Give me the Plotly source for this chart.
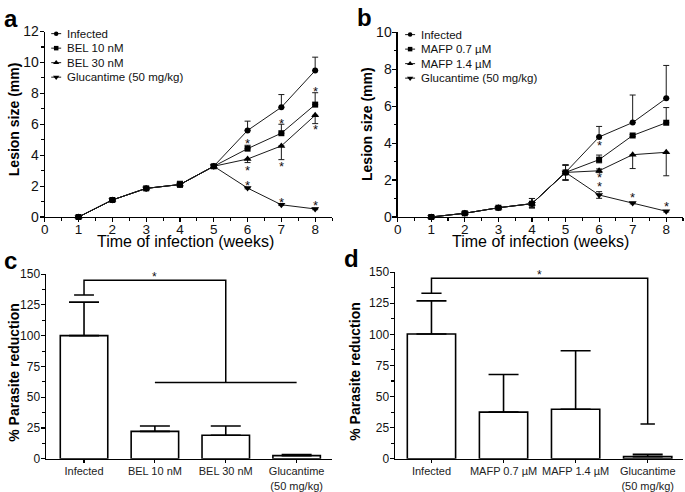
import plotly.graph_objects as go

W, H = 685, 492
FONT = "Arial, Liberation Sans, Helvetica, sans-serif"

# ---------------- data ----------------
weeks = [1, 2, 3, 4, 5, 6, 7, 8]

# Panel a
a_names = ["Infected", "BEL 10 nM", "BEL 30 nM", "Glucantime (50 mg/kg)"]
a_infected = [0.0, 1.1, 1.85, 2.1, 3.28, 5.6, 7.1, 9.47]
a_infected_up = [0, 0.05, 0.05, 0.2, 0.1, 0.6, 0.82, 0.87]
a_infected_dn = [0, 0.05, 0.05, 0.15, 0.1, 0, 0, 0]
a_bel10 = [0.0, 1.1, 1.85, 2.1, 3.28, 4.42, 5.42, 7.27]
a_bel10_up = [0, 0.05, 0.05, 0.2, 0.1, 0.22, 0.58, 0.77]
a_bel10_dn = [0, 0.05, 0.05, 0.15, 0.1, 0, 0, 0]
a_bel30 = [0.0, 1.1, 1.85, 2.1, 3.28, 3.75, 4.6, 6.58]
a_bel30_up = [0, 0.05, 0.05, 0.2, 0.1, 0, 0, 0]
a_bel30_dn = [0, 0.05, 0.05, 0.15, 0.1, 0.23, 0.89, 0.54]
a_gluc = [0.0, 1.1, 1.85, 2.1, 3.28, 1.87, 0.79, 0.52]
a_gluc_up = [0, 0.05, 0.05, 0.2, 0.1, 0.05, 0.05, 0.05]
a_gluc_dn = [0, 0.05, 0.05, 0.15, 0.1, 0.05, 0.05, 0.05]
a_star_weeks = [6, 7, 8]
a_star_bel10 = [4.92, 6.25, 8.33]
a_star_bel30 = [3.2, 3.48, 5.83]
a_star_gluc = [2.25, 1.15, 0.94]

# Panel b
b_names = ["Infected", "MAFP 0.7 µM", "MAFP 1.4 µM", "Glucantime (50 mg/kg)"]
b_infected = [0.0, 0.2, 0.5, 0.72, 2.41, 4.33, 5.11, 6.42]
b_infected_up = [0, 0.03, 0.05, 0.28, 0.4, 0.57, 1.49, 1.78]
b_infected_dn = [0, 0.03, 0.05, 0.22, 0.41, 0, 0, 0]
b_mafp07 = [0.0, 0.2, 0.5, 0.72, 2.41, 3.1, 4.41, 5.1]
b_mafp07_up = [0, 0.03, 0.05, 0.28, 0.4, 0.25, 0.05, 0.82]
b_mafp07_dn = [0, 0.03, 0.05, 0.22, 0.41, 0.17, 0.05, 0]
b_mafp14 = [0.0, 0.2, 0.5, 0.72, 2.41, 2.5, 3.37, 3.5]
b_mafp14_up = [0, 0.03, 0.05, 0.28, 0.4, 0.1, 0, 0]
b_mafp14_dn = [0, 0.03, 0.05, 0.22, 0.41, 0.1, 0.75, 1.27]
b_gluc = [0.0, 0.2, 0.5, 0.72, 2.41, 1.19, 0.75, 0.31]
b_gluc_up = [0, 0.03, 0.05, 0.28, 0.4, 0.18, 0.04, 0.04]
b_gluc_dn = [0, 0.03, 0.05, 0.22, 0.41, 0.18, 0.04, 0.04]
b_star_weeks = [6, 6, 6, 7, 8]
b_star_values = [4.03, 2.32, 1.8, 1.19, 0.72]

# Panel c
c_groups = ["Infected", "BEL 10 nM", "BEL 30 nM", "Glucantime<br>(50 mg/kg)"]
c_values = [100, 22.3, 19.1, 2.6]
c_err = [27.2, 4.4, 7.6, 0.8]
c_sig_from, c_sig_to = 0, 2
c_sig_start, c_sig_top, c_sig_end = 133, 145, 62
c_sig_group = [1, 3]

# Panel d
d_groups = ["Infected", "MAFP 0.7 µM", "MAFP 1.4 µM", "Glucantime<br>(50 mg/kg)"]
d_values = [100.3, 37.5, 39.9, 1.8]
d_err = [26.6, 30.3, 46.9, 1.8]
d_sig_from, d_sig_to = 0, 3
d_sig_start, d_sig_top, d_sig_end = 133, 145, 28

symbols = ["circle", "square", "triangle-up", "triangle-down"]
msizes = [6, 6, 7, 7]

# ---------------- helpers ----------------
def px(x):
    return x / W

def py(y):
    return 1 - y / H

fig = go.Figure()
annotations = []

LINE_C = "#1a1a1a"


def add_series(xa, ya, y, up, dn, sym, size):
    fig.add_trace(go.Scatter(
        x=weeks, y=y, mode="lines+markers", xaxis=xa, yaxis=ya,
        line=dict(color=LINE_C, width=1),
        marker=dict(symbol=sym, size=size, color="black"),
        error_y=dict(type="data", symmetric=False, array=up, arrayminus=dn,
                     color=LINE_C, thickness=1, width=3),
        cliponaxis=False, showlegend=False, hoverinfo="skip"))


a_series = [(a_infected, a_infected_up, a_infected_dn), (a_bel10, a_bel10_up, a_bel10_dn),
            (a_bel30, a_bel30_up, a_bel30_dn), (a_gluc, a_gluc_up, a_gluc_dn)]
b_series = [(b_infected, b_infected_up, b_infected_dn), (b_mafp07, b_mafp07_up, b_mafp07_dn),
            (b_mafp14, b_mafp14_up, b_mafp14_dn), (b_gluc, b_gluc_up, b_gluc_dn)]
order = [3, 2, 0, 1]
for i in order:
    y, up, dn = a_series[i]
    add_series("x", "y", y, up, dn, symbols[i], msizes[i])
for i in order:
    y, up, dn = b_series[i]
    add_series("x2", "y2", y, up, dn, symbols[i], msizes[i])

# stars a / b
for wk_list, val_list, xr, yr in [
        (a_star_weeks, a_star_bel10, "x", "y"),
        (a_star_weeks, a_star_bel30, "x", "y"),
        (a_star_weeks, a_star_gluc, "x", "y"),
        (b_star_weeks, b_star_values, "x2", "y2")]:
    for wk, v in zip(wk_list, val_list):
        annotations.append(dict(x=wk, y=v, xref=xr, yref=yr, text="*", showarrow=False,
                                font=dict(family=FONT, size=13, color="#111"),
                                xanchor="center", yanchor="middle", yshift=-3))

# bars c / d
for xa, ya, vals, errs in [("x3", "y3", c_values, c_err), ("x4", "y4", d_values, d_err)]:
    fig.add_trace(go.Bar(
        x=list(range(len(vals))), y=vals, xaxis=xa, yaxis=ya, width=0.67,
        marker=dict(color="white", line=dict(color="black", width=1.6)),
        error_y=dict(type="data", symmetric=False, array=errs, arrayminus=[0] * len(errs),
                     color="black", thickness=1.6, width=15),
        showlegend=False, hoverinfo="skip"))


def bracket(xa, ya, x_from, x_to, y_start, y_top, y_end, cap_start, cap_end):
    xs = [x_from - cap_start, x_from + cap_start, None, x_from, x_from, x_to, x_to]
    ys = [y_start, y_start, None, y_start, y_top, y_top, y_end]
    if cap_end:
        xs += [None, x_to - cap_end, x_to + cap_end]
        ys += [None, y_end, y_end]
    fig.add_trace(go.Scatter(x=xs, y=ys, xaxis=xa, yaxis=ya, mode="lines",
                             line=dict(color="black", width=1.5), showlegend=False,
                             hoverinfo="skip", cliponaxis=False))
    annotations.append(dict(x=(x_from + x_to) / 2, y=y_top, xref=xa, yref=ya, text="*",
                            showarrow=False, font=dict(family=FONT, size=12, color="#111"),
                            xanchor="center", yanchor="bottom", yshift=-6))


bracket("x3", "y3", c_sig_from, c_sig_to, c_sig_start, c_sig_top, c_sig_end, 0.14, 0)
fig.add_trace(go.Scatter(x=c_sig_group, y=[c_sig_end, c_sig_end], xaxis="x3", yaxis="y3",
                         mode="lines", line=dict(color="black", width=1.5),
                         showlegend=False, hoverinfo="skip"))
bracket("x4", "y4", d_sig_from, d_sig_to, d_sig_start, d_sig_top, d_sig_end, 0.14, 0.1)

# custom legends on a full-figure pixel axis
for names, lx, ly in [(a_names, 52.5, 26.5), (b_names, 408.5, 27.5)]:
    for i, nm in enumerate(names):
        yy = ly + 15 * i
        fig.add_trace(go.Scatter(x=[lx - 5, lx + 5], y=[yy, yy], xaxis="x5", yaxis="y5",
                                 mode="lines", line=dict(color=LINE_C, width=1),
                                 showlegend=False, hoverinfo="skip"))
        fig.add_trace(go.Scatter(x=[lx], y=[yy], xaxis="x5", yaxis="y5", mode="markers",
                                 marker=dict(symbol=symbols[i], size=msizes[i] - 1.5, color="black"),
                                 showlegend=False, hoverinfo="skip"))
        annotations.append(dict(x=px(lx + 9), y=py(yy), xref="paper", yref="paper", text=nm,
                                showarrow=False, xanchor="left", yanchor="middle",
                                font=dict(family=FONT, size=11.5, color="#111")))

# panel letters
for letter, x, y in [("a", 7, 11), ("b", 363, 10), ("c", 7, 261), ("d", 350, 259)]:
    annotations.append(dict(x=px(x), y=py(y), xref="paper", yref="paper", text="<b>%s</b>" % letter,
                            showarrow=False, xanchor="center", yanchor="middle",
                            font=dict(family=FONT, size=24, color="black")))

# axis titles
for txt, x, y in [("<b>Lesion size (mm)</b>", 10, 115), ("<b>Lesion size (mm)</b>", 365, 120),
                  ("<b>% Parasite reduction</b>", 10, 376), ("<b>% Parasite reduction</b>", 353, 375)]:
    annotations.append(dict(x=px(x), y=py(y), xref="paper", yref="paper", text=txt, textangle=-90,
                            showarrow=False, xanchor="center", yanchor="middle",
                            font=dict(family=FONT, size=14, color="black")))
for x, y in [(183, 241), (540, 241)]:
    annotations.append(dict(x=px(x), y=py(y), xref="paper", yref="paper",
                            text="Time of infection (weeks)", showarrow=False,
                            xanchor="center", yanchor="middle",
                            font=dict(family=FONT, size=16, color="black")))

# ---------------- axes ----------------
AX = dict(showline=True, linecolor="black", linewidth=1.2, showgrid=False, zeroline=False,
          ticks="outside", tickcolor="black", tickwidth=1.1, fixedrange=True)


def wk_x(domain, anchor):
    return dict(AX, domain=domain, anchor=anchor, range=[0, 8.5], tickmode="linear", tick0=0,
                dtick=1, ticklen=4, ticklabelstandoff=-4,
                minor=dict(dtick=0.5, ticklen=3, ticks="outside", tickcolor="black"),
                tickfont=dict(family=FONT, size=13.5, color="#111"))


def lin_y(domain, anchor, top, dtick, mdtick, size):
    return dict(AX, domain=domain, anchor=anchor, range=[0, top], tickmode="linear", tick0=0,
                dtick=dtick, ticklen=4, ticklabelstandoff=-2,
                minor=dict(dtick=mdtick, ticklen=2.5, ticks="outside", tickcolor="black"),
                tickfont=dict(family=FONT, size=size, color="#111"))


def cat_x(domain, anchor, labels, rng):
    return dict(AX, domain=domain, anchor=anchor, range=rng, tickmode="array",
                tickvals=list(range(len(labels))), ticktext=labels, ticklen=3,
                ticklabelstandoff=-1, tickfont=dict(family=FONT, size=11, color="#222"))


fig.update_layout(
    width=W, height=H, margin=dict(l=0, r=0, t=0, b=0, pad=0), autosize=False,
    paper_bgcolor="white", plot_bgcolor="rgba(0,0,0,0)",
    showlegend=False,
    xaxis=wk_x([px(41), px(330)], "y"),
    yaxis=lin_y([py(216), py(24.3)], "x", 12, 2, 1, 14),
    xaxis2=wk_x([px(396), px(683)], "y2"),
    yaxis2=lin_y([py(216), py(25)], "x2", 10, 2, 1, 14),
    xaxis3=cat_x([px(42), px(330)], "y3", c_groups, [-0.54, 3.5]),
    yaxis3=lin_y([py(466), py(275)], "x3", 150, 25, 12.5, 12),
    xaxis4=cat_x([px(393), px(683)], "y4", d_groups, [-0.51, 3.49]),
    yaxis4=lin_y([py(466), py(273)], "x4", 150, 25, 12.5, 12),
    xaxis5=dict(domain=[0, 1], range=[0, W], visible=False, fixedrange=True, anchor="y5"),
    yaxis5=dict(domain=[0, 1], range=[H, 0], visible=False, fixedrange=True, anchor="x5"),
    annotations=annotations,
)

fig.write_html("out.html", config={"displayModeBar": False, "staticPlot": True},
               post_script="document.body.style.margin='0';document.body.style.overflow='hidden';")
